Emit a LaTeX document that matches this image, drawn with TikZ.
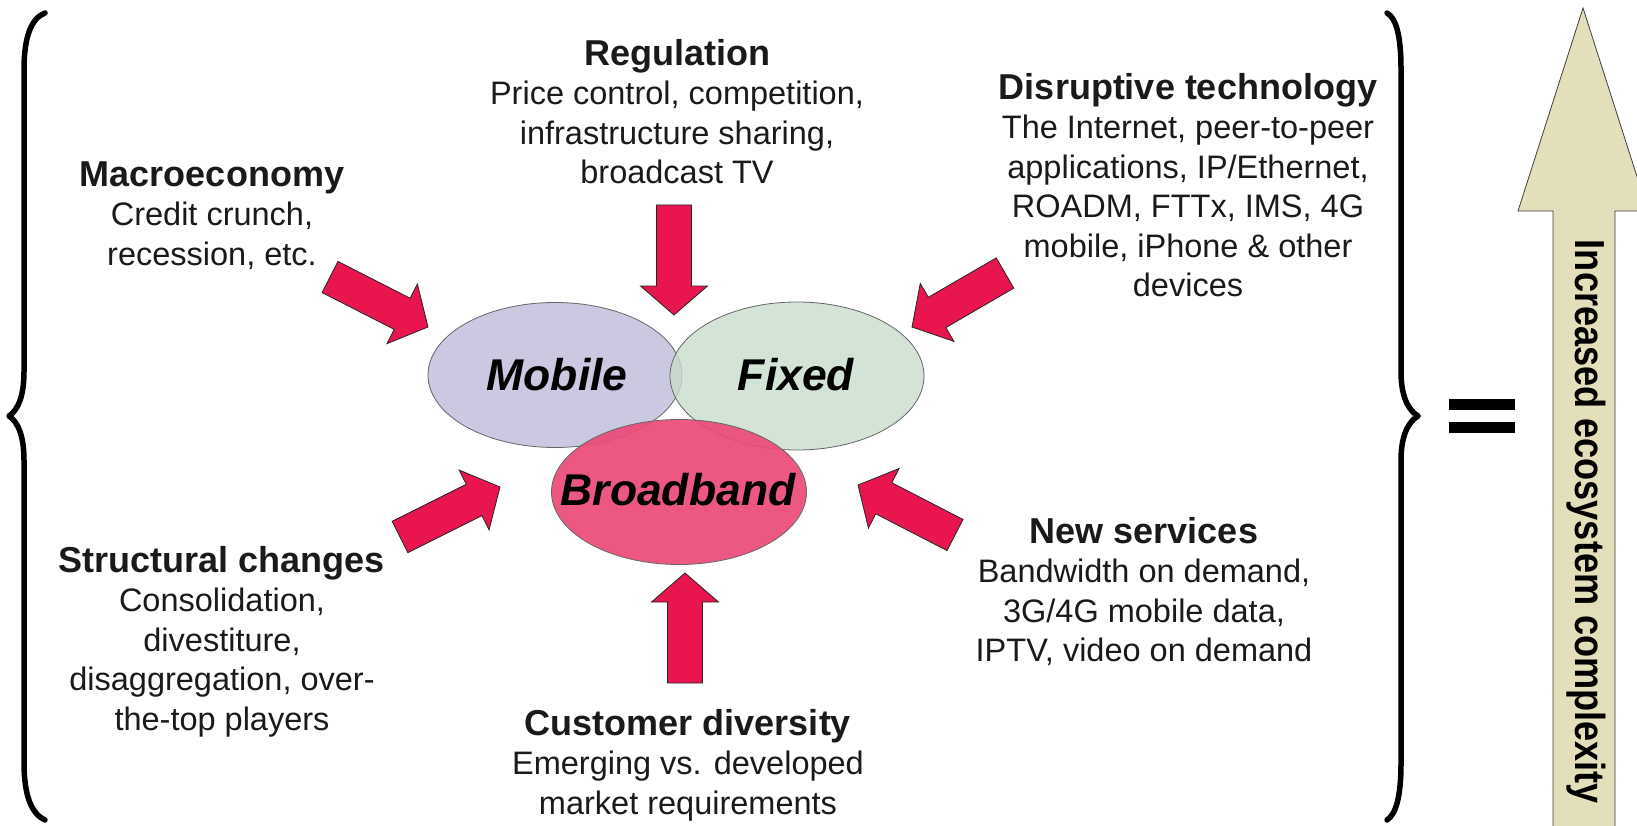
\documentclass[tikz,border=0pt]{standalone}
\usepackage{fontspec}
\setmainfont{Liberation Sans}
\newfontfamily\narrowsans{Liberation Sans}[FakeStretch=0.86]
\usetikzlibrary{calc,shapes.geometric}
\definecolor{arrowred}{HTML}{E8154F}
\definecolor{mobilefill}{HTML}{CBC9E1}
\definecolor{fixedfill}{HTML}{C8DCCB}
\definecolor{bbfill}{HTML}{EC4A79}
\definecolor{bigfill}{HTML}{E3DFBA}
\definecolor{bodytext}{HTML}{1A1A1A}
\newcommand{\ttl}[1]{\rule{0pt}{30pt}{\fontsize{36}{39.5}\selectfont\bfseries #1}}
\newcommand{\fatarrow}[2]{%
  \coordinate (#1-hb) at ($(#2)!29pt!(#1)$);
  \draw[redarrow] ($(#1)!17.5pt!90:(#2)$) -- ($(#1-hb)!17.5pt!90:(#2)$) -- ($(#1-hb)!33.5pt!90:(#2)$) -- (#2)
     -- ($(#1-hb)!33.5pt!-90:(#2)$) -- ($(#1-hb)!17.5pt!-90:(#2)$) -- ($(#1)!17.5pt!-90:(#2)$) -- cycle;}
\begin{document}
\begin{tikzpicture}[x=1pt,y=1pt,
  blk/.style={align=center, anchor=north, inner sep=0pt, text=bodytext, font=\fontsize{32.5}{39.5}\selectfont},
  redarrow/.style={fill=arrowred, draw=black!85, line width=0.8pt, line join=miter},
  venn/.style={ellipse, draw=black!60, line width=0.8pt, inner sep=0pt},
  vennlabel/.style={inner sep=0pt, anchor=base, font=\fontsize{44.5}{44.5}\selectfont\bfseries\itshape},
  brace/.style={line width=5.5pt, line cap=round, line join=round}]
\useasboundingbox (0,0) rectangle (1637,-826);
\fill[white] (0,0) rectangle (1637,-826);

% braces
\draw[brace] (45,-13) .. controls (32,-18) and (24,-35) .. (24,-70) -- (24,-372)
  .. controls (24,-396) and (18,-410) .. (9,-416)
  .. controls (18,-422) and (24,-436) .. (24,-460) -- (24,-762)
  .. controls (24,-797) and (32,-814) .. (45,-820);
\draw[brace] (1387,-13) .. controls (1396,-18) and (1401,-35) .. (1401,-70) -- (1401,-372)
  .. controls (1401,-396) and (1408,-410) .. (1418,-416)
  .. controls (1408,-422) and (1401,-436) .. (1401,-460) -- (1401,-762)
  .. controls (1401,-797) and (1396,-814) .. (1387,-820);

% equals sign
\fill (1449,-399) rectangle (1515,-410);
\fill (1449,-422) rectangle (1515,-433);

% big arrow
\draw[fill=bigfill, draw=black!75, line width=0.8pt]
  (1553,-840) -- (1553,-211) -- (1518,-211) -- (1583,-8) -- (1648,-211) -- (1615,-211) -- (1615,-840);
\node[rotate=-90, inner sep=0pt, font=\narrowsans\fontsize{42}{42}\selectfont\bfseries] (complexity) at (1586,-522) {Increased ecosystem complexity};

% Venn ellipses
\node[venn, fill=mobilefill, minimum width=254pt, minimum height=145pt] (mobile) at (555,-375) {};
\node[venn, fill=fixedfill, fill opacity=0.8, minimum width=254pt, minimum height=148pt] (fixed) at (797,-376) {};
\node[venn, fill=bbfill, fill opacity=0.92, minimum width=255pt, minimum height=145pt] (broadband) at (679,-492) {};
\node[vennlabel] (mobiletext) at (557,-390) {Mobile};
\node[vennlabel] (fixedtext) at (796,-390) {Fixed};
\node[vennlabel] (bbtext) at (678,-505) {Broadband};

% text blocks
\node[blk] (regulation) at (677,-35) {\ttl{Regulation}\\ Price control, competition,\\ infrastructure sharing,\\ broadcast TV};
\node[blk] (macro) at (212,-156) {\ttl{Macroeconomy}\\ Credit crunch,\\ recession, etc.};
\node[blk] (disruptive) at (1188,-69) {\ttl{Disruptive technology}\\ The Internet, peer-to-peer\\ applications, IP/Ethernet,\\ ROADM, FTTx, IMS, 4G\\ mobile, iPhone \& other\\ devices};
\node[blk] (structural) at (222,-542) {\ttl{Structural changes}\\ Consolidation,\\ divestiture,\\ disaggregation, over-\\ the-top players};
\node[blk] (newserv) at (1144,-513) {\ttl{New services}\\ Bandwidth on demand,\\ 3G/4G mobile data,\\ IPTV, video on demand};
\node[blk] (customer) at (688,-705) {\ttl{Customer diversity}\\ Emerging vs. developed\\ market requirements};

% red arrows (tail, tip)
\coordinate (regT) at (674,-205);  \coordinate (regH) at (674,-315);
\coordinate (cusT) at (685,-683);  \coordinate (cusH) at (685,-573);
\coordinate (macT) at (330,-277);  \coordinate (macH) at (428,-327);
\coordinate (strT) at (400,-537);  \coordinate (strH) at (500,-487);
\coordinate (disT) at (1005,-273); \coordinate (disH) at (912,-327);
\coordinate (newT) at (955,-535);  \coordinate (newH) at (858,-485);
\fatarrow{regT}{regH}
\fatarrow{cusT}{cusH}
\fatarrow{macT}{macH}
\fatarrow{strT}{strH}
\fatarrow{disT}{disH}
\fatarrow{newT}{newH}
\end{tikzpicture}
\end{document}
